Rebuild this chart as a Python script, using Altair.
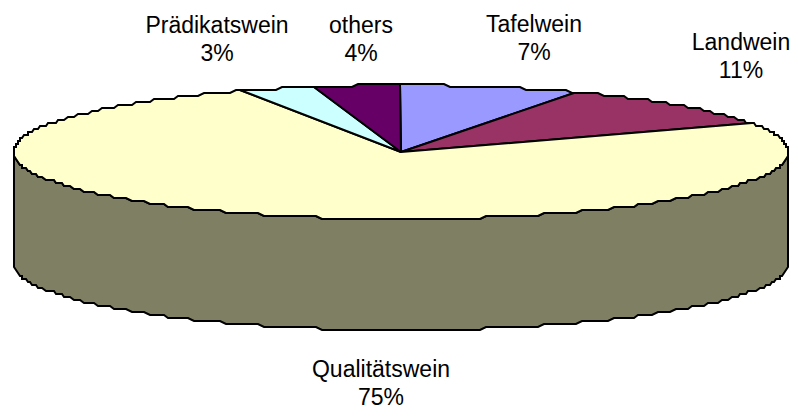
import math
import altair as alt
import pandas as pd

labels = ["Tafelwein", "Landwein", "Qualitätswein", "Prädikatswein", "others"]
shares = [7.4, 10.6, 75.2, 3.2, 3.6]
shown = ["7%", "11%", "75%", "3%", "4%"]
colors = ["#9999FF", "#993366", "#FFFFCC", "#CCFFFF", "#660066"]
wall_color = "#7F7F63"

# layout of the drawing, in screen pixels
CX, CY, RX, RY, DEPTH = 401, 152, 387.5, 67, 111
label_x = [534, 741, 381, 217, 361]
label_y = [32, 50, 377, 33, 33]  # first-line baselines
STEP_X, STEP_Y = 2.0, 3.0
W, H = 782, 401


def rim(t):
    a = 2 * math.pi * t / 100
    x = CX + RX * math.sin(a)
    y = CY - RY * math.cos(a)
    return round(x / STEP_X) * STEP_X, round(y / STEP_Y) * STEP_Y


def rim_path(t0, t1):
    """Points of the rim between two cumulative shares, on one shared grid."""
    grid = [t0] + [k * 0.25 for k in range(0, 401) if t0 < k * 0.25 < t1] + [t1]
    pts = []
    for t in grid:
        p = rim(t)
        if not pts or pts[-1] != p:
            pts.append(p)
    return pts


rows = []
order = 0


def add(name, pts):
    global order
    for x, y in pts:
        rows.append(dict(name=name, o=order, x=x, y=y))
        order += 1


front = rim_path(25, 75)
add("wall", front + [(x, y + DEPTH) for x, y in reversed(front)] + [front[0]])

start = 0.0
for lab, s in zip(labels, shares):
    add(lab, [(CX, CY)] + rim_path(start, start + s) + [(CX, CY)])
    start += s

df = pd.DataFrame(rows)
x_scale = alt.Scale(domain=[8, 8 + W], range=[0, W], nice=False, zero=False)
y_scale = alt.Scale(domain=[8, 8 + H], range=[0, H], nice=False, zero=False)

names = ["wall"] + labels
fills = [wall_color] + colors
shapes = alt.Chart(df).mark_line(
    stroke="black", strokeWidth=2, strokeJoin="miter", interpolate="linear", clip=False
).encode(
    x=alt.X("x:Q", scale=x_scale, axis=None),
    y=alt.Y("y:Q", scale=y_scale, axis=None),
    order="o:Q",
    detail="name:N",
    fill=alt.Fill("name:N", scale=alt.Scale(domain=names, range=fills), legend=None),
)

txt = pd.DataFrame({"x": label_x, "y": label_y, "t": [[a, b] for a, b in zip(labels, shown)]})
text = alt.Chart(txt).mark_text(
    font="Liberation Sans", fontSize=23, lineHeight=28, baseline="alphabetic", align="center", color="black"
).encode(
    x=alt.X("x:Q", scale=x_scale, axis=None),
    y=alt.Y("y:Q", scale=y_scale, axis=None),
    text="t:N",
)

chart = (shapes + text).properties(
    width=W, height=H, padding=0, autosize=alt.AutoSizeParams(type="none")
).configure_view(stroke=None).resolve_scale(fill="independent")
chart.save("out.html", embed_options={"renderer": "svg", "actions": False})
